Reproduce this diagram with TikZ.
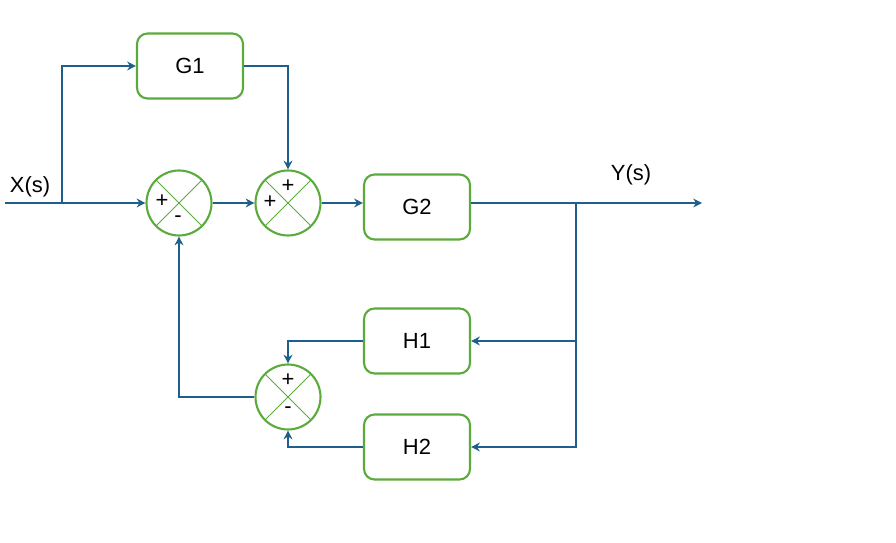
\documentclass[tikz,border=0pt]{standalone}
\usepackage{fontspec}
\setmainfont{Liberation Sans}
\usetikzlibrary{positioning,arrows.meta}

\definecolor{sigblue}{HTML}{1F5F8B}
\definecolor{boxgreen}{HTML}{5BAA3C}

\tikzset{
  block/.style={draw=boxgreen,line width=1.2pt,rounded corners=6pt,
    minimum width=2.12cm,minimum height=1.3cm,font=\fontsize{12.5}{14}\selectfont},
  sumnode/.style={circle,draw=boxgreen,line width=1.2pt,minimum size=1.3cm,
    path picture={
      \draw[boxgreen,line width=0.5pt]
        (path picture bounding box.north west) -- (path picture bounding box.south east)
        (path picture bounding box.south west) -- (path picture bounding box.north east);
    }},
  sig/.style={draw=sigblue,line width=1.2pt,-{Stealth[length=5pt,width=5pt]}},
  sign/.style={font=\fontsize{12.5}{14}\selectfont,inner sep=0pt}
}

\begin{document}
\begin{tikzpicture}[x=0.02cm,y=-0.02cm]
  \useasboundingbox (0,0) rectangle (896,543);

  % blocks
  \node [block] (g1) at (190,66) {G1};
  \node [block] (g2) at (417,207) {G2};
  \node [block] (h1) at (417,341) {H1};
  \node [block] (h2) at (417,447) {H2};

  % summing points
  \node [sumnode] (s1) at (179,203) {};
  \node [sumnode] (s2) at (288,203) {};
  \node [sumnode] (s3) at (288,397) {};

  \node [sign] at (162,201) {+};
  \node [sign] at (178,219) {-};
  \node [sign] at (288,186) {+};
  \node [sign] at (270,202) {+};
  \node [sign] at (288,380) {+};
  \node [sign] at (288,410) {-};

  % labels
  \node [font=\fontsize{12.5}{14}\selectfont] (xlab) at (30,187) {X(s)};
  \node [font=\fontsize{12.5}{14}\selectfont] (ylab) at (631,175) {Y(s)};

  % forward path
  \coordinate (xin) at (5,203);
  \coordinate (xb) at (62,203);
  \coordinate (yout) at (702,203);
  \coordinate (yb) at (576,203);
  \draw [sig] (xin) -- (s1.west);
  \draw [sig] (xb) |- (g1.west);
  \draw [sig] (g1.east) -| (s2.north);
  \draw [sig] (s1.east) -- (s2.west);
  \draw [sig] (s2.east) -- (s2.east -| g2.west);
  \draw [sig] (s2.east -| g2.east) -- (yout);

  % feedback path
  \draw [sig] (yb) |- (h1.east);
  \draw [sig] (yb) |- (h2.east);
  \draw [sig] (h1.west) -| (s3.north);
  \draw [sig] (h2.west) -| (s3.south);
  \draw [sig] (s3.west) -| (s1.south);
\end{tikzpicture}
\end{document}
